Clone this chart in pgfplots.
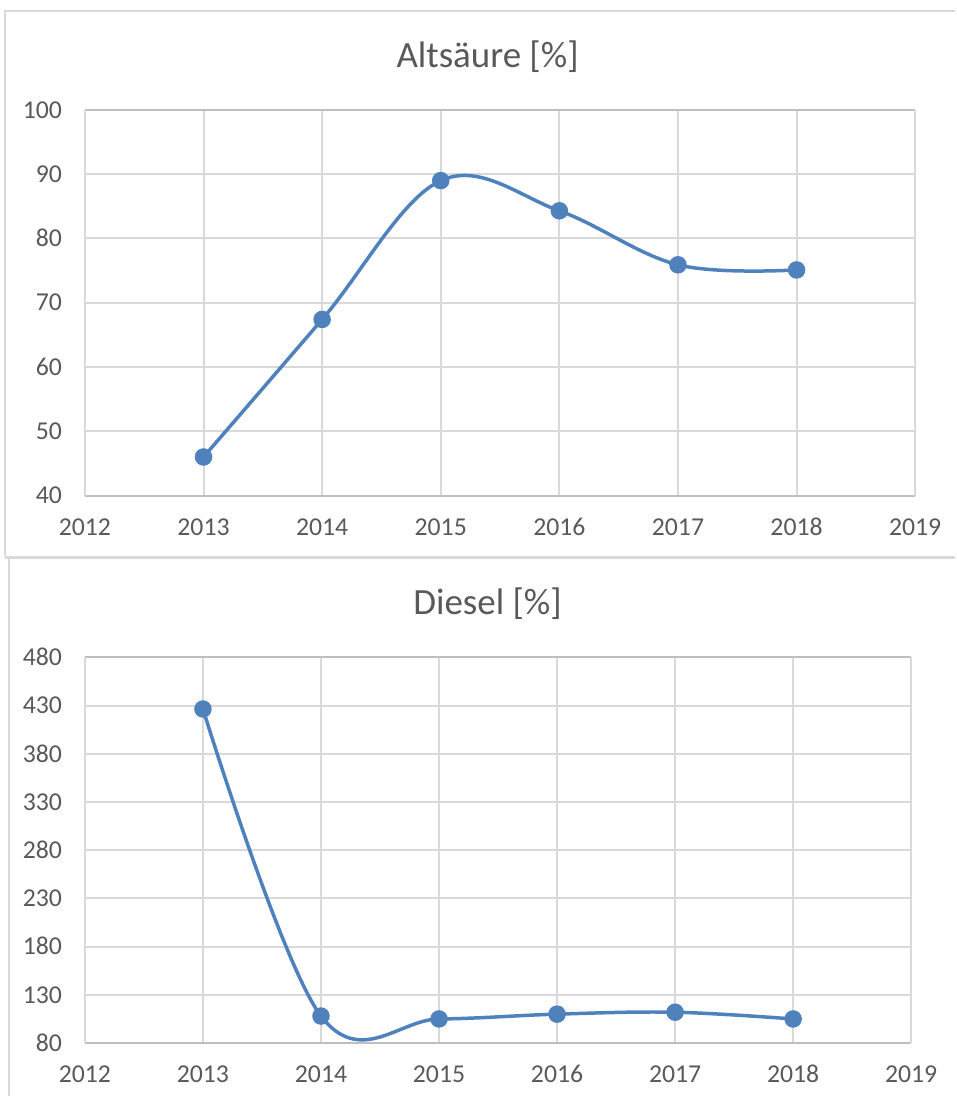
\documentclass[border=0pt]{standalone}
\usepackage{fontspec}
\setmainfont{Carlito}
\usepackage{pgfplots}
\pgfplotsset{compat=1.18}
\definecolor{txt}{HTML}{595959}
\definecolor{gridc}{HTML}{D9D9D9}
\definecolor{axc}{HTML}{BFBFBF}
\definecolor{xlblue}{HTML}{4F81BD}
\pgfplotsset{xlstyle/.style={
  scale only axis, height=154.4pt, anchor=south west,
  xmin=2012, xmax=2019, xtick={2012,2013,...,2019},
  grid=major, major grid style={draw=gridc, line width=0.8pt},
  separate axis lines,
  x axis line style={draw=axc, line width=0.8pt},
  y axis line style={draw=gridc, line width=0.8pt},
  tick style={draw=none},
  /pgf/number format/assume math mode=true,
  /pgf/number format/1000 sep={},
  ticklabel style={font=\fontsize{10.3}{12}\selectfont, text=txt, inner sep=0pt,
    text height=6.6pt, text depth=0pt},
  xticklabel style={anchor=north, yshift=-9pt},
  yticklabel style={anchor=east, xshift=-9pt},
  clip=false,
}}
\begin{document}
\begin{tikzpicture}
\path (0,0) rectangle (382.4pt,438.8pt);
\begin{scope}[x=0.4pt, y=-0.4pt, yshift=438.8pt]
  \draw[gridc, line width=0.8pt] (5,557) -- (5,11) -- (956,11);
  \draw[gridc, line width=1.2pt] (5,558.5) -- (956,558.5);
  \draw[gridc, line width=0.8pt] (9,560) -- (9,1097);
  \node[text=txt, font=\fontsize{14.8}{17}\selectfont] at (488,57) {Altsäure [\%]};
  \node[text=txt, font=\fontsize{14.8}{17}\selectfont] at (488,604) {Diesel [\%]};
\end{scope}
\begin{axis}[xlstyle, at={(34pt,240.4pt)}, width=332.4pt,
  ymin=40, ymax=100, ytick={40,50,...,100}]
  \addplot[xlblue, line width=1.4pt, smooth, tension=0.6, mark=*, mark size=2.8pt,
    mark options={fill=xlblue, draw=xlblue}]
    coordinates {(2013,46.0) (2014,67.4) (2015,89.0) (2016,84.3) (2017,75.9) (2018,75.1)};
\end{axis}
\begin{axis}[xlstyle, at={(34pt,21.2pt)}, width=330.8pt,
  ymin=80, ymax=480, ytick={80,130,...,480}]
  \addplot[xlblue, line width=1.4pt, smooth, tension=0.6, mark=*, mark size=2.8pt,
    mark options={fill=xlblue, draw=xlblue}]
    coordinates {(2013,426.5) (2014,108) (2015,105) (2016,110) (2017,112) (2018,105)};
\end{axis}
\end{tikzpicture}
\end{document}
